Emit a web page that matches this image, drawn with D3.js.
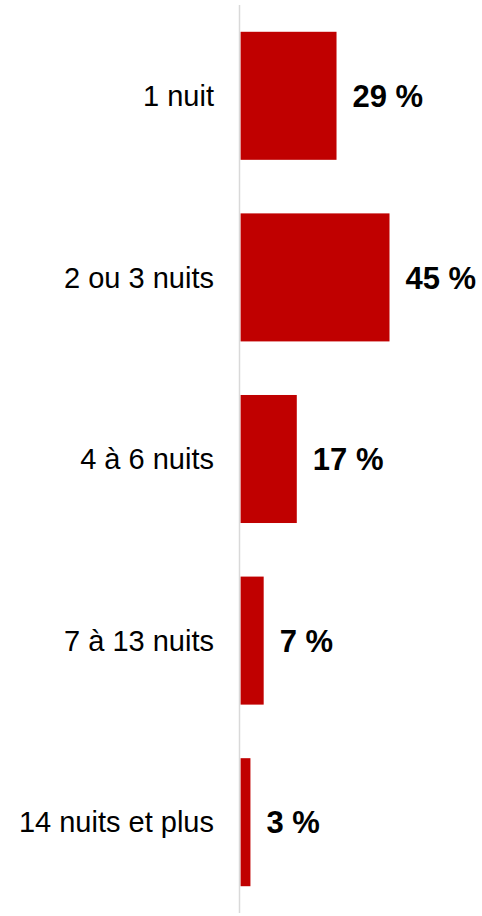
<!DOCTYPE html>
<html>
<head>
<meta charset="utf-8">
<script src="https://cdn.jsdelivr.net/npm/d3@7/dist/d3.min.js"></script>
<style>
html,body{margin:0;padding:0;background:#fff;}
svg{display:block;}
</style>
</head>
<body>
<script>
const categories = ["1 nuit", "2 ou 3 nuits", "4 à 6 nuits", "7 à 13 nuits", "14 nuits et plus"];
const values = [29, 45, 17, 7, 3];

const W = 482, H = 916;
const svg = d3.select("body").append("svg").attr("width", W).attr("height", H);

const x = d3.scaleLinear().domain([0, 45]).range([240.5, 389.5]);
const y = d3.scaleBand().domain(categories).range([5, 913]).paddingInner(0.295).paddingOuter(0.1475);

const data = categories.map((c, i) => ({c, v: values[i]}));

svg.selectAll("rect.bar").data(data).enter().append("rect")
  .attr("class", "bar")
  .attr("x", x(0))
  .attr("y", d => y(d.c))
  .attr("width", d => x(d.v) - x(0))
  .attr("height", y.bandwidth())
  .attr("fill", "#c00000");

svg.append("line")
  .attr("x1", 239.5).attr("x2", 239.5)
  .attr("y1", 5).attr("y2", 913)
  .attr("stroke", "#d9d9d9").attr("stroke-width", 1.5);

svg.selectAll("text.cat").data(data).enter().append("text")
  .attr("class", "cat")
  .attr("x", 214)
  .attr("y", d => y(d.c) + y.bandwidth() / 2)
  .attr("dy", "0.35em")
  .attr("text-anchor", "end")
  .attr("font-family", "Liberation Sans, Arial, sans-serif")
  .attr("font-size", 29)
  .attr("fill", "#000")
  .text(d => d.c);

svg.selectAll("text.val").data(data).enter().append("text")
  .attr("class", "val")
  .attr("x", d => x(d.v) + 16)
  .attr("y", d => y(d.c) + y.bandwidth() / 2)
  .attr("dy", "0.36em")
  .attr("font-family", "Liberation Sans, Arial, sans-serif")
  .attr("font-size", 31)
  .attr("font-weight", "bold")
  .attr("fill", "#000")
  .text(d => d.v + " %");
</script>
</body>
</html>
